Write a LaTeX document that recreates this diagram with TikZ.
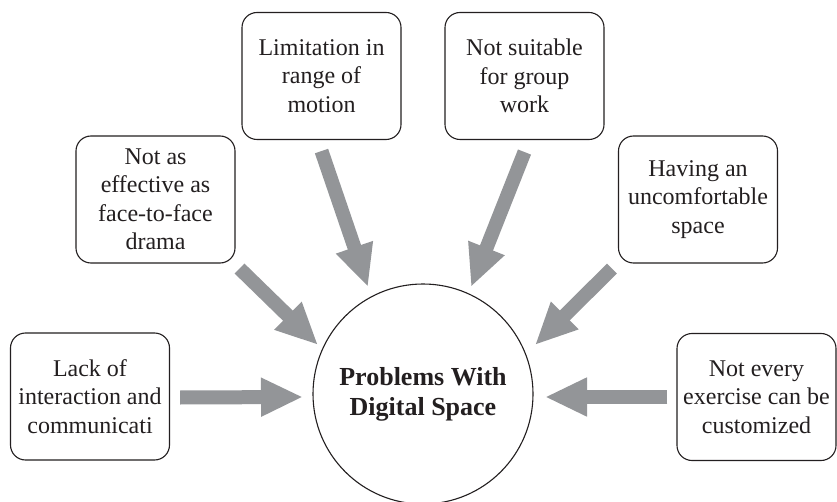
\documentclass[tikz,border=0pt]{standalone}
\usepackage{fontspec}
\setmainfont{Liberation Serif}
\usetikzlibrary{arrows.meta,calc}
\definecolor{arrowgray}{HTML}{939598}
\definecolor{ink}{HTML}{231F20}
\begin{document}
\begin{tikzpicture}[x=1pt,y=1pt,
  box/.style={draw=ink, line width=1.1pt, rounded corners=15pt, minimum width=159pt, minimum height=127pt,
    align=center, inner sep=0pt, text=ink, font=\fontsize{24}{28.5}\selectfont},
  hub/.style={circle, draw=ink, line width=1.1pt, minimum size=220pt, inner sep=0pt, align=center,
    text=ink, font=\fontsize{26}{30}\selectfont\bfseries},
  bigarrow/.style={draw=arrowgray, line width=14pt, -{Triangle[width=36pt,length=42pt]}}]
\useasboundingbox (0,0) rectangle (837,501);
\fill[white] (0,0) rectangle (837,501);

\node[hub] (circ) at (423,107) {Problems With\\Digital Space};

\node[box] (lack)  at (90,104.5)  {Lack of\\interaction and\\communicati};
\node[box] (eff)   at (155.5,301.5) {Not as\\effective as\\face-to-face\\drama};
\node[box] (lim)   at (321.5,425) {Limitation in\\range of\\motion};
\node[box] (suit)  at (524.5,425) {Not suitable\\for group\\work};
\node[box] (hav)   at (698,301.5) {Having an\\uncomfortable\\space};
\node[box] (every) at (756.5,104)  {Not every\\exercise can be\\customized};

% arrow tails
\path (lack.east) ++(10,-1) coordinate (lack-t);
\path (eff.south east) ++(4,-5) coordinate (eff-t);
\path (lim.south) ++(0,-11) coordinate (lim-t);
\path (suit.south) ++(0,-12) coordinate (suit-t);
\path (hav.south west) ++(-6,-5) coordinate (hav-t);
\path (every.west) ++(-9,0) coordinate (every-t);
% arrow heads
\path (circ.center) ++(-120,-3) coordinate (lack-h);
\path (circ.center) ++(-105,49) coordinate (eff-h);
\path (circ.center) ++(-55,107) coordinate (lim-h);
\path (circ.center) ++(48,107) coordinate (suit-h);
\path (circ.center) ++(112,49) coordinate (hav-h);
\path (circ.center) ++(122,-3) coordinate (every-h);

\draw[bigarrow] (lack-t) -- (lack-h);
\draw[bigarrow] (eff-t) -- (eff-h);
\draw[bigarrow] (lim-t) -- (lim-h);
\draw[bigarrow] (suit-t) -- (suit-h);
\draw[bigarrow] (hav-t) -- (hav-h);
\draw[bigarrow] (every-t) -- (every-h);
\end{tikzpicture}
\end{document}
